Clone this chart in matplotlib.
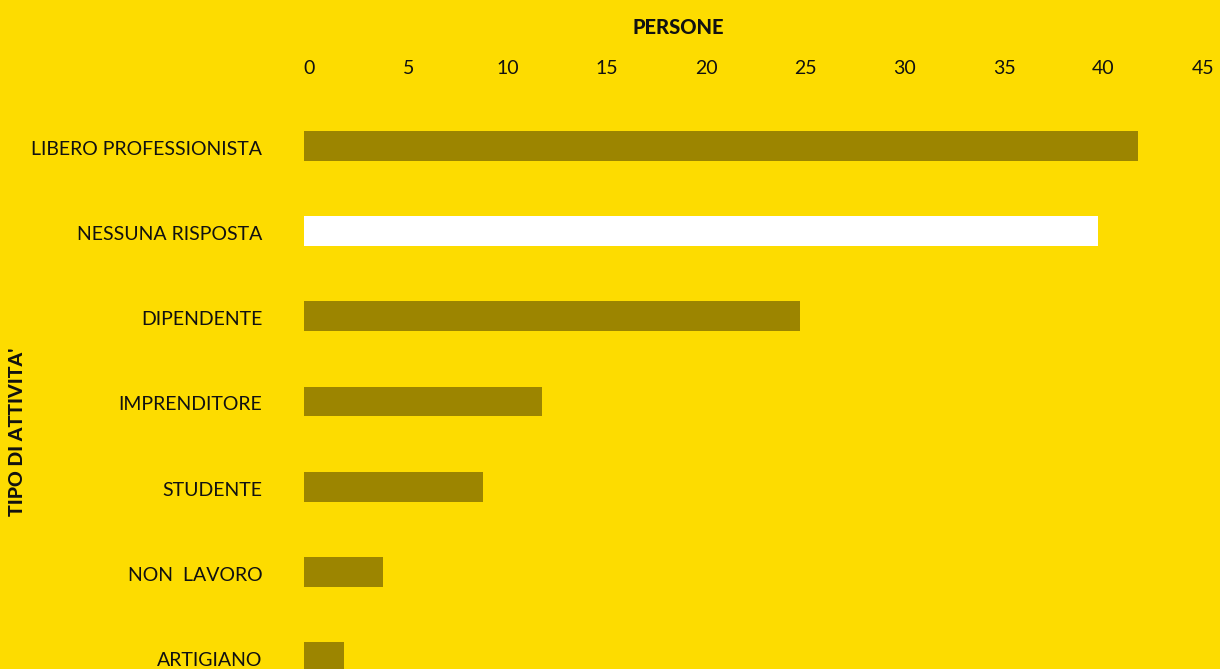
import matplotlib.pyplot as plt
from matplotlib.transforms import ScaledTranslation

categorie = ["LIBERO PROFESSIONISTA", "NESSUNA RISPOSTA", "DIPENDENTE",
             "IMPRENDITORE", "STUDENTE", "NON  LAVORO", "ARTIGIANO"]
persone = [42, 40, 25, 12, 9, 4, 2]
colori = ["#9c8500", "#ffffff", "#9c8500", "#9c8500", "#9c8500", "#9c8500", "#9c8500"]
tick_x = [0, 5, 10, 15, 20, 25, 30, 35, 40, 45]

sfondo = "#fddc00"
plt.rcParams['font.family'] = ['Lato', 'DejaVu Sans']

fig = plt.figure(figsize=(12.2, 6.69), dpi=100, facecolor=sfondo)
ax = fig.add_axes([304 / 1220, 0, 1 - 304 / 1220, 1 - 90 / 669])
ax.set_facecolor(sfondo)

pos = list(range(len(categorie)))
ax.barh(pos, persone, height=0.352, color=colori)

ax.set_xlim(0, (1220 - 304) / 19.86)
ax.set_ylim(6.141, -0.6575)
ax.set_xticks(tick_x)
ax.set_yticks(pos)
ax.set_yticklabels(categorie)
ax.xaxis.tick_top()
ax.tick_params(axis='x', length=0, pad=9, labelsize=14, colors='#111111')
ax.tick_params(axis='y', length=0, pad=30, labelsize=14, colors='#111111')
for s in ax.spines.values():
    s.set_visible(False)

# numeri leggermente spostati a destra come nell'originale
off = ScaledTranslation(5 / 100, 0, fig.dpi_scale_trans)
for lab in ax.get_xticklabels():
    lab.set_transform(lab.get_transform() + off)
# etichette categorie un filo più in basso
off_y = ScaledTranslation(0, -2 / 100, fig.dpi_scale_trans)
for lab in ax.get_yticklabels():
    lab.set_transform(lab.get_transform() + off_y)

fig.text(678 / 1220, 1 - 28 / 669, "PERSONE", ha='center', va='center',
         fontsize=14.5, fontweight='black', color='#111111')
fig.text(18 / 1220, 1 - 432 / 669, "TIPO DI ATTIVITA'", ha='center', va='center',
         rotation=90, fontsize=14, fontweight='black', color='#111111')

fig.savefig("out.png", dpi=100, facecolor=sfondo)
